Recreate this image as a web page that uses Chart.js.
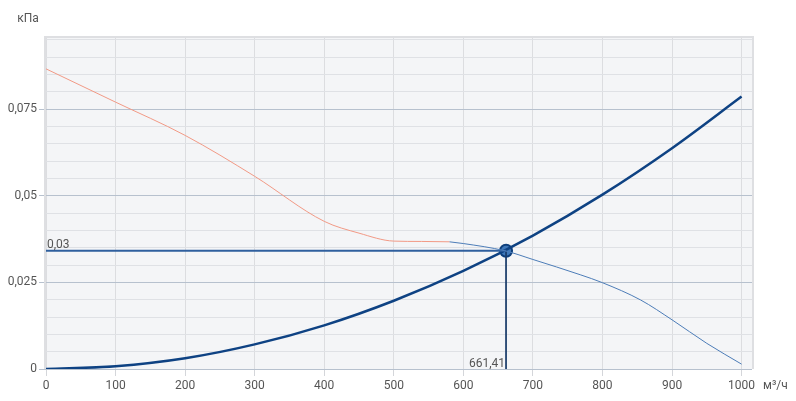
<!DOCTYPE html>
<html>
<head>
<meta charset="utf-8">
<script src="https://cdn.jsdelivr.net/npm/chart.js@4"></script>
<style>
  body { margin: 0; background: #ffffff; }
</style>
</head>
<body>
<canvas id="grafico" width="796" height="401"></canvas>
<script>
// Кривая сети (жирная синяя)
const sistemaX = [0, 100, 200, 300, 400, 500, 600, 700, 800, 900, 1000];
const sistemaY = [0, 0.0008, 0.0031, 0.0071, 0.0126, 0.0197, 0.0283, 0.0385, 0.0503, 0.0637, 0.0786];

// Кривая вентилятора: рабочая часть (красная) и остальная (тонкая синяя)
const fanRojoX = [0, 100, 200, 300, 400, 450, 500, 540, 580];
const fanRojoY = [0.0866, 0.0770, 0.0674, 0.0556, 0.0426, 0.0392, 0.0369, 0.0368, 0.0367];
const fanAzulX = [580, 600, 660, 700, 768, 800, 855, 900, 950, 1000];
const fanAzulY = [0.0367, 0.0362, 0.0341, 0.0316, 0.0272, 0.0249, 0.0199, 0.0142, 0.0074, 0.0014];

// Рабочая точка
const puntoX = 661.41;
const puntoY = 0.0341;
const puntoEtiquetaY = '0,03';
const puntoEtiquetaX = '661,41';

// Подписи осей
const tituloY = 'кПа';
const tituloX = 'м³/ч';

const fuente = 'Roboto, "Noto Sans", sans-serif';
const colorTexto = '#555555';

const aPuntos = (xs, ys) => xs.map((x, i) => ({ x: x, y: ys[i] }));
const esMayor = v => Math.abs(Math.round(v / 0.025) * 0.025 - v) < 1e-9;
const coma = v => String(Math.round(v * 1000) / 1000).replace('.', ',');

const fondoPlugin = {
  id: 'fondo',
  beforeDraw(chart) {
    const { ctx, chartArea: a } = chart;
    ctx.save();
    ctx.fillStyle = '#f4f5f7';
    ctx.fillRect(a.left, a.top, a.right - a.left, a.bottom - a.top);
    ctx.restore();
  },
  beforeDatasetsDraw(chart) {
    const { ctx, chartArea: a } = chart;
    ctx.save();
    ctx.strokeStyle = '#dedfe2';
    ctx.lineWidth = 2;
    ctx.beginPath();
    ctx.moveTo(a.left - 1, a.bottom);
    ctx.lineTo(a.left - 1, a.top - 1);
    ctx.lineTo(a.right + 1, a.top - 1);
    ctx.lineTo(a.right + 1, a.bottom);
    ctx.stroke();
    ctx.restore();
  },
  afterDraw(chart) {
    const { ctx, scales } = chart;
    const px = scales.x.getPixelForValue(puntoX);
    const py = scales.y.getPixelForValue(puntoY);
    const x0 = scales.x.getPixelForValue(0);
    const y0 = scales.y.getPixelForValue(0);
    ctx.save();
    ctx.font = '12px ' + fuente;
    ctx.fillStyle = colorTexto;
    ctx.textBaseline = 'alphabetic';
    ctx.textAlign = 'left';
    ctx.fillText(puntoEtiquetaY, x0 + 1, py - 3);
    ctx.textAlign = 'right';
    ctx.fillText(puntoEtiquetaX, px - 1, y0 - 2);
    ctx.textAlign = 'center';
    ctx.textBaseline = 'middle';
    ctx.fillText(tituloY, 28, 19);
    ctx.textAlign = 'left';
    ctx.fillText(tituloX, 763, 386);
    ctx.restore();
  }
};

const config = {
  type: 'line',
  data: {
    datasets: [
      {
        data: aPuntos(fanRojoX, fanRojoY),
        borderColor: '#f29a86',
        borderWidth: 1,
        pointRadius: 0,
        cubicInterpolationMode: 'monotone'
      },
      {
        data: aPuntos(fanAzulX, fanAzulY),
        borderColor: '#4d7db8',
        borderWidth: 1,
        pointRadius: 0,
        cubicInterpolationMode: 'monotone'
      },
      {
        data: [{ x: 0, y: puntoY }, { x: puntoX, y: puntoY }],
        borderColor: '#2f5f9e',
        borderWidth: 2,
        pointRadius: 0
      },
      {
        data: [{ x: puntoX, y: puntoY }, { x: puntoX, y: 0 }],
        borderColor: '#1b3d6b',
        borderWidth: 1,
        pointRadius: 0
      },
      {
        data: aPuntos(sistemaX, sistemaY),
        borderColor: '#0e4283',
        borderWidth: 2.5,
        pointRadius: 0,
        cubicInterpolationMode: 'monotone'
      },
      {
        data: [{ x: puntoX, y: puntoY }],
        showLine: false,
        pointRadius: 6,
        pointBorderWidth: 2,
        pointBackgroundColor: '#3f78b9',
        pointBorderColor: '#0e3f7c'
      }
    ]
  },
  options: {
    responsive: false,
    animation: false,
    events: [],
    layout: { padding: { top: 38, right: 44, left: 0, bottom: 0 } },
    plugins: { legend: { display: false }, tooltip: { enabled: false } },
    scales: {
      x: {
        type: 'linear',
        min: 0,
        max: 1015,
        border: { display: false },
        afterFit(s) { s.height = 32; },
        ticks: {
          stepSize: 100,
          includeBounds: false,
          maxRotation: 0,
          padding: 3,
          color: colorTexto,
          font: { family: fuente, size: 12 },
          callback: v => String(v)
        },
        grid: { color: '#dcdde0', tickLength: 7, tickColor: '#d4d6da', lineWidth: 1 }
      },
      y: {
        type: 'linear',
        min: 0,
        max: 0.0955,
        border: { display: false },
        afterFit(s) { s.width = 46; },
        ticks: {
          stepSize: 0.005,
          includeBounds: false,
          autoSkip: false,
          padding: 2,
          color: colorTexto,
          font: { family: fuente, size: 12 },
          callback: v => esMayor(v) ? coma(v) : ''
        },
        grid: {
          color: c => (c.tick && esMayor(c.tick.value)) ? '#b7c1ce' : '#dfe1e5',
          tickColor: c => (c.tick && esMayor(c.tick.value)) ? '#b7c1ce' : 'rgba(0,0,0,0)',
          tickLength: 7,
          lineWidth: 1
        }
      }
    }
  },
  plugins: [fondoPlugin]
};

new Chart(document.getElementById('grafico'), config);
</script>
</body>
</html>
